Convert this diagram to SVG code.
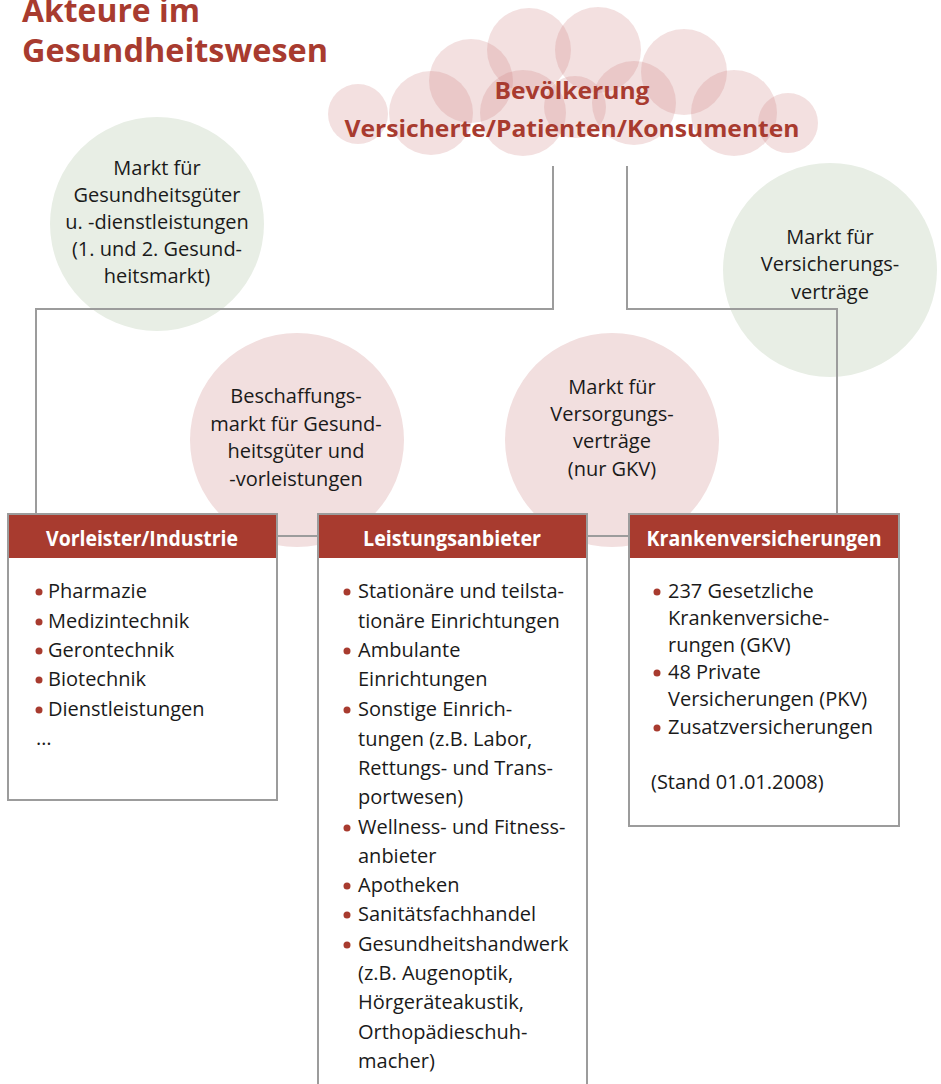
<svg xmlns="http://www.w3.org/2000/svg" width="941" height="1084" viewBox="0 0 941 1084">
<style>
.t{font-family:"Open Sans","Noto Sans",sans-serif;font-size:20px;fill:#1a1a1a}
.c{text-anchor:middle}
.h{font-family:"Open Sans","Noto Sans",sans-serif;font-weight:bold;font-size:21px;fill:#ffffff;text-anchor:middle}
.red{font-family:"Open Sans","Noto Sans",sans-serif;font-weight:bold;fill:#a83b2f}
.cl{fill:#cc7f7f;fill-opacity:0.24}
.green{fill:#e8eee5}
.pink{fill:#f2dfdf}
.box{fill:#ffffff;stroke:#9c9c9c;stroke-width:2}
.hdr{fill:#a83b2f}
.conn{fill:none;stroke:#9c9c9c;stroke-width:2}
.b{fill:#a83b2f}
</style>
<rect width="941" height="1084" fill="#ffffff"/>
<g id="title">
<text class="red" x="22" y="22" font-size="33" textLength="178" lengthAdjust="spacingAndGlyphs">Akteure im</text>
<text class="red" x="22" y="62" font-size="33" textLength="306" lengthAdjust="spacingAndGlyphs">Gesundheitswesen</text>
</g>
<g id="markt-gesundheitsgueter">
<circle class="green" cx="157" cy="224" r="107"/>
<text class="t c" x="157" y="175">Markt für</text>
<text class="t c" x="157" y="202">Gesundheitsgüter</text>
<text class="t c" x="157" y="229">u. -dienstleistungen</text>
<text class="t c" x="157" y="256">(1. und 2. Gesund-</text>
<text class="t c" x="157" y="283">heitsmarkt)</text>
</g>
<g id="markt-versicherungsvertraege">
<circle class="green" cx="830" cy="270" r="107"/>
<text class="t c" x="830" y="244">Markt für</text>
<text class="t c" x="830" y="271">Versicherungs-</text>
<text class="t c" x="830" y="299">verträge</text>
</g>
<g id="beschaffungsmarkt">
<circle class="pink" cx="297" cy="440" r="107"/>
<text class="t c" x="296" y="403">Beschaffungs-</text>
<text class="t c" x="296" y="431">markt für Gesund-</text>
<text class="t c" x="296" y="458">heitsgüter und</text>
<text class="t c" x="296" y="486">-vorleistungen</text>
</g>
<g id="markt-versorgungsvertraege">
<circle class="pink" cx="612" cy="440" r="107"/>
<text class="t c" x="612" y="394">Markt für</text>
<text class="t c" x="612" y="421">Versorgungs-</text>
<text class="t c" x="612" y="448">verträge</text>
<text class="t c" x="612" y="476">(nur GKV)</text>
</g>
<g id="bevoelkerung">
<circle class="cl" cx="358" cy="114" r="30"/>
<circle class="cl" cx="431" cy="113" r="42"/>
<circle class="cl" cx="471" cy="81" r="42"/>
<circle class="cl" cx="529" cy="50" r="42"/>
<circle class="cl" cx="523" cy="113" r="43"/>
<circle class="cl" cx="598" cy="50" r="43"/>
<circle class="cl" cx="575" cy="107" r="31"/>
<circle class="cl" cx="634" cy="103" r="42"/>
<circle class="cl" cx="684" cy="72" r="43"/>
<circle class="cl" cx="734" cy="113" r="43"/>
<circle class="cl" cx="788" cy="123" r="30"/>
<text class="red" x="572" y="99" font-size="23" text-anchor="middle" textLength="155" lengthAdjust="spacingAndGlyphs">Bevölkerung</text>
<text class="red" x="572" y="137" font-size="23" text-anchor="middle" textLength="455" lengthAdjust="spacingAndGlyphs">Versicherte/Patienten/Konsumenten</text>
</g>
<g id="connectors">
<path class="conn" d="M36,513 V309 H553 V166"/>
<path class="conn" d="M627,166 V309 H837 V513"/>
<line class="conn" x1="277" y1="536" x2="317" y2="536"/>
<line class="conn" x1="587" y1="536" x2="628" y2="536"/>
</g>
<g id="vorleister">
<rect class="box" x="8" y="514" width="269" height="286"/>
<rect class="hdr" x="9" y="515" width="267" height="43"/>
<text class="h" x="142" y="546" textLength="192" lengthAdjust="spacingAndGlyphs">Vorleister/Industrie</text>
<circle class="b" cx="39" cy="592" r="3.5"/><text class="t" x="48" y="598">Pharmazie</text>
<circle class="b" cx="39" cy="622" r="3.5"/><text class="t" x="48" y="628">Medizintechnik</text>
<circle class="b" cx="39" cy="651" r="3.5"/><text class="t" x="48" y="657">Gerontechnik</text>
<circle class="b" cx="39" cy="680" r="3.5"/><text class="t" x="48" y="686">Biotechnik</text>
<circle class="b" cx="39" cy="710" r="3.5"/><text class="t" x="48" y="716">Dienstleistungen</text>
<text class="t" x="36" y="745">…</text>
</g>
<g id="leistungsanbieter">
<rect class="box" x="318" y="514" width="269" height="600"/>
<rect class="hdr" x="319" y="515" width="267" height="43"/>
<text class="h" x="452" y="546" textLength="178" lengthAdjust="spacingAndGlyphs">Leistungsanbieter</text>
<circle class="b" cx="347" cy="592" r="3.5"/><text class="t" x="358" y="598">Stationäre und teilsta-</text>
<text class="t" x="358" y="628">tionäre Einrichtungen</text>
<circle class="b" cx="347" cy="651" r="3.5"/><text class="t" x="358" y="657">Ambulante</text>
<text class="t" x="358" y="686">Einrichtungen</text>
<circle class="b" cx="347" cy="710" r="3.5"/><text class="t" x="358" y="716">Sonstige Einrich-</text>
<text class="t" x="358" y="746">tungen (z.B. Labor,</text>
<text class="t" x="358" y="775">Rettungs- und Trans-</text>
<text class="t" x="358" y="804">portwesen)</text>
<circle class="b" cx="347" cy="828" r="3.5"/><text class="t" x="358" y="834">Wellness- und Fitness-</text>
<text class="t" x="358" y="863">anbieter</text>
<circle class="b" cx="347" cy="886" r="3.5"/><text class="t" x="358" y="892">Apotheken</text>
<circle class="b" cx="347" cy="915" r="3.5"/><text class="t" x="358" y="921">Sanitätsfachhandel</text>
<circle class="b" cx="347" cy="945" r="3.5"/><text class="t" x="358" y="951">Gesundheitshandwerk</text>
<text class="t" x="358" y="980">(z.B. Augenoptik,</text>
<text class="t" x="358" y="1009">Hörgeräteakustik,</text>
<text class="t" x="358" y="1039">Orthopädieschuh-</text>
<text class="t" x="358" y="1068">macher)</text>
</g>
<g id="krankenversicherungen">
<rect class="box" x="629" y="514" width="270" height="312"/>
<rect class="hdr" x="630" y="515" width="268" height="43"/>
<text class="h" x="764" y="546" textLength="235" lengthAdjust="spacingAndGlyphs">Krankenversicherungen</text>
<circle class="b" cx="657" cy="592" r="3.5"/><text class="t" x="668" y="598">237 Gesetzliche</text>
<text class="t" x="668" y="625">Krankenversiche-</text>
<text class="t" x="668" y="652">rungen (GKV)</text>
<circle class="b" cx="657" cy="673" r="3.5"/><text class="t" x="668" y="679">48 Private</text>
<text class="t" x="668" y="706">Versicherungen (PKV)</text>
<circle class="b" cx="657" cy="728" r="3.5"/><text class="t" x="668" y="734">Zusatzversicherungen</text>
<text class="t" x="651" y="789">(Stand 01.01.2008)</text>
</g>
</svg>
